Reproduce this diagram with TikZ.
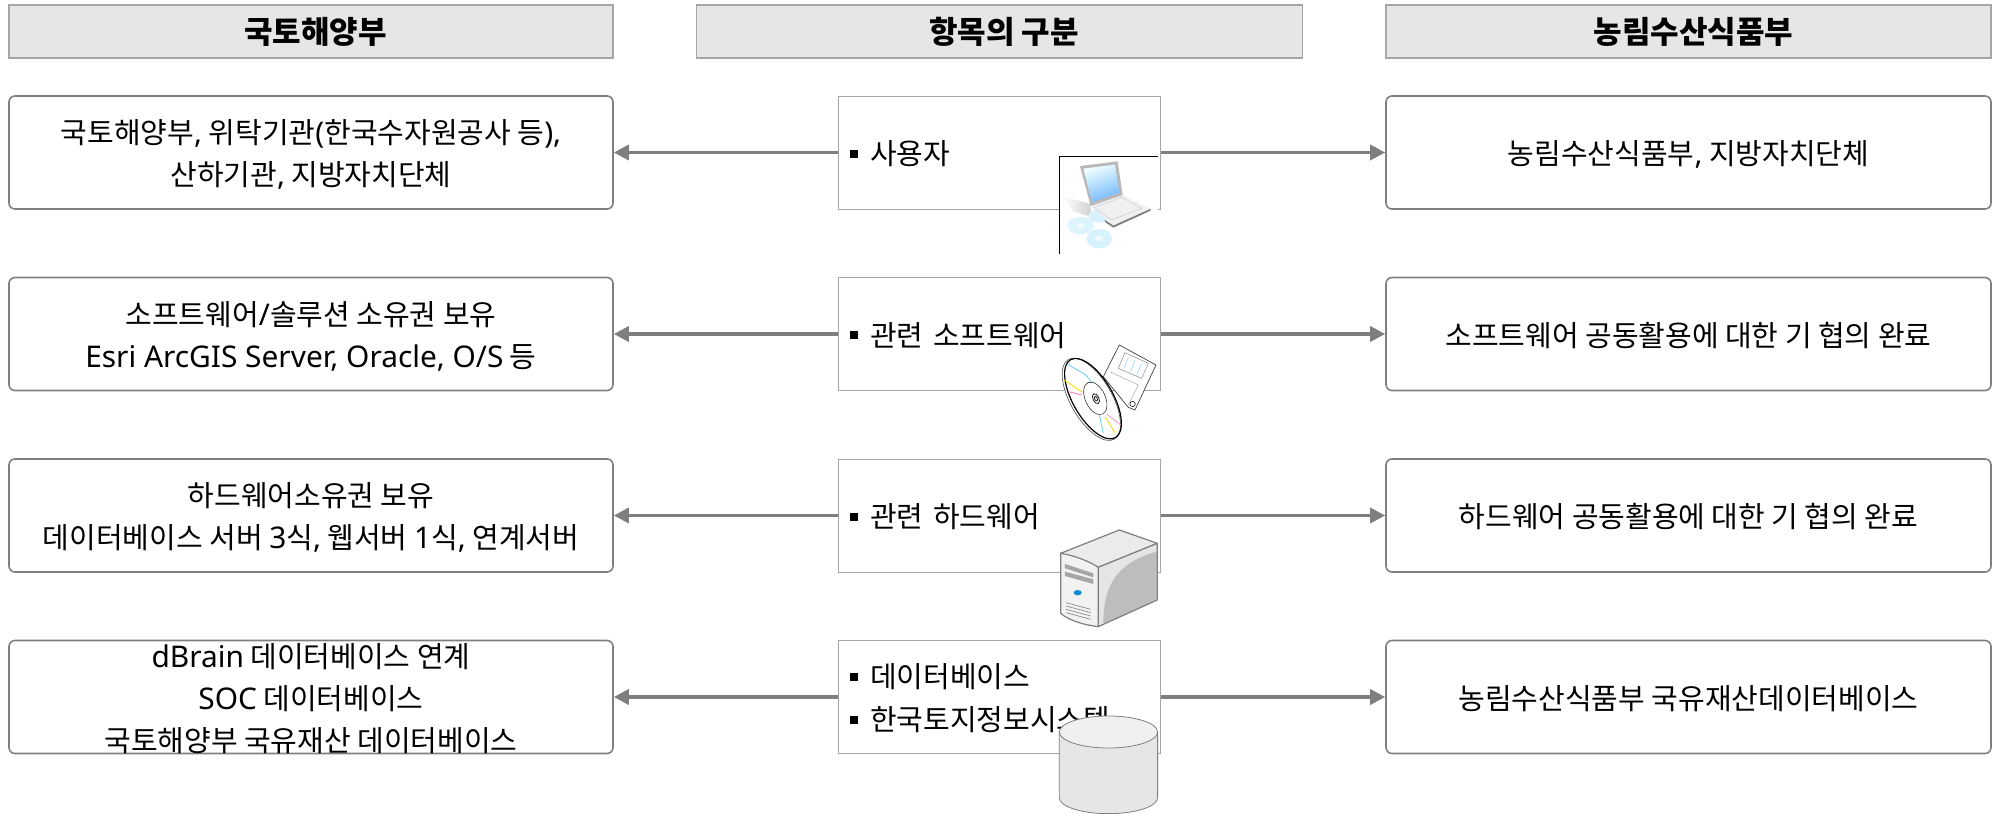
\documentclass[tikz,border=0pt]{standalone}
\usepackage{fontspec}
\usetikzlibrary{arrows.meta}
\setmainfont{Noto Sans CJK KR}
\newfontfamily\latf[Scale=1.03]{Noto Sans}
\newcommand{\lat}[1]{{\latf #1}}
\newcommand{\hi}{\rule{0pt}{30pt}}
\newcommand{\lo}{\rule[-6pt]{0pt}{6pt}}
\newcommand{\blt}{\rule[7pt]{8pt}{8pt}\hspace{12pt}}
\definecolor{hdrfill}{HTML}{E6E6E6}
\definecolor{edgeg}{HTML}{A6A6A6}
\definecolor{boxg}{HTML}{7F7F7F}
\tikzset{
  hdr/.style={draw=edgeg,fill=hdrfill,line width=1.2pt,minimum height=53pt,inner sep=0pt,font=\fontsize{31}{36}\selectfont\bfseries},
  sidebox/.style={draw=boxg,line width=1.6pt,rounded corners=6pt,minimum height=113pt,inner sep=0pt,align=center,font=\fontsize{29}{42}\selectfont},
  widel/.style={minimum width=604pt},
  wider/.style={minimum width=605pt},
  midbox/.style={draw=edgeg,line width=1pt,minimum width=322pt,minimum height=113pt,inner xsep=12pt,inner ysep=0pt,text width=298pt,align=left,font=\fontsize{29}{43}\selectfont},
  link/.style={draw=boxg,line width=3.4pt,-{Triangle[length=15pt,width=15pt]}},
  srv/.style={draw=boxg,line width=1.2pt,line join=round},
  cyl/.style={draw=boxg,line width=0.8pt,fill=hdrfill}
}
\begin{document}
\begin{tikzpicture}[x=1pt,y=-1pt]
\useasboundingbox (0,0) rectangle (1995,814);
% headers
\node[hdr,widel] (h1) at (311,31.5) {\hi\lo\hspace{9pt}국토해양부};
\node[hdr,minimum width=606pt] (h2) at (999.5,31.5) {\hi\lo\hspace{9pt}항목의 구분};
\node[hdr,wider] (h3) at (1688.5,31.5) {\hi\lo\hspace{10pt}농림수산식품부};
% left boxes
\node[sidebox,widel] (l1) at (311,152.5) {\hi 국토해양부\lat{,} 위탁기관\lat{(}한국수자원공사 등\lat{),}\\\lo 산하기관\lat{,} 지방자치단체};
\node[sidebox,widel] (l2) at (311,334) {\hi 소프트웨어\lat{/}솔루션 소유권 보유\\\lo\lat{Esri ArcGIS Server, Oracle, O/S} 등};
\node[sidebox,widel] (l3) at (311,515.5) {\hi 하드웨어소유권 보유\\\lo 데이터베이스 서버 \lat{3}식\lat{,} 웹서버 \lat{1}식\lat{,} 연계서버};
\node[sidebox,widel] (l4) at (311,697) {\rule{0pt}{24pt}\smash{\lat{dBrain} 데이터베이스 연계}\\\lat{SOC} 데이터베이스\\\smash{국토해양부 국유재산 데이터베이스}};
% middle boxes
\node[midbox] (m1) at (999,152.5) {\hi\lo\blt 사용자};
\node[midbox] (m2) at (999,334) {\hi\lo\blt 관련 소프트웨어};
\node[midbox] (m3) at (999,515.5) {\hi\lo\blt 관련 하드웨어};
\node[midbox] (m4) at (999,697) {\hi\blt 데이터베이스\\\lo\blt 한국토지정보시스템};
% right boxes
\node[sidebox,wider] (r1) at (1688.5,152.5) {\hi\lo 농림수산식품부\lat{,} 지방자치단체};
\node[sidebox,wider] (r2) at (1688.5,334) {\hi\lo 소프트웨어 공동활용에 대한 기 협의 완료};
\node[sidebox,wider] (r3) at (1688.5,515.5) {\hi\lo 하드웨어 공동활용에 대한 기 협의 완료};
\node[sidebox,wider] (r4) at (1688.5,697) {\hi\lo 농림수산식품부 국유재산데이터베이스};
% connectors
\foreach \i in {1,2,3,4}{
  \draw[link] (m\i.west) -- (l\i.east);
  \draw[link] (m\i.east) -- (r\i.west);
}
% laptop picture
\begin{scope}[shift={(820,80)},x=0.3333pt,y=-0.3333pt]
  \fill[white] (718,229) rectangle (1013,523);
  \draw[black,line width=0.8pt] (718,523) -- (718,229) -- (1013,229);
  \shade[left color=white,right color=black!18] (730,350) -- (812,372) -- (812,410) -- (760,395) -- cycle;
  \fill[cyan!13!white] (782,437) ellipse [x radius=40,y radius=26];
  \fill[cyan!16!white] (838,476) ellipse [x radius=38,y radius=29];
  \fill[cyan!16!white] (835,408) ellipse [x radius=30,y radius=20];
  \fill[cyan!5!white] (782,437) ellipse [x radius=12,y radius=7];
  \fill[cyan!5!white] (838,476) ellipse [x radius=12,y radius=8];
  \fill[black!50] (880,443) -- (992,392) -- (992,386) -- (880,436) -- (855,420) -- (855,426) -- cycle;
  \fill[black!6] (812,378) -- (908,345) -- (990,386) -- (880,436) -- cycle;
  \draw[black!20,line width=0.5pt] (822,382) -- (905,352) -- (965,385) -- (875,420) -- cycle;
  \fill[black!28] (780,258) -- (893,244) -- (908,345) -- (812,378) -- cycle;
  \shade[left color=cyan!6!white,right color=cyan!50!blue!55!white,shading angle=20] (790,266) -- (885,254) -- (898,338) -- (816,366) -- cycle;
\end{scope}
% disc and floppy picture
\begin{scope}[shift={(820,270)},x=0.3333pt,y=-0.3333pt]
  \draw[black!75,fill=white,line width=0.7pt,line join=round] (898,225) -- (1008,285) -- (945,420) -- (925,412) -- (850,320) -- cycle;
  \draw[black!45,line width=0.5pt] (915,248) -- (985,280) -- (965,325) -- (895,295) -- cycle;
  \draw[cyan!50,line width=0.5pt] (925,262) -- (912,295) (945,270) -- (932,305) (965,280) -- (950,315);
  \draw[black!35,line width=0.5pt] (870,305) -- (955,345) -- (925,405);
  \draw[black,line width=0.5pt] (938,402) circle [radius=8];
  \draw[black!70,fill=white,line width=0.6pt] (814,388) ellipse [x radius=138,y radius=62,rotate=-60];
  \draw[black,line width=1.2pt] (819,386) ellipse [x radius=135,y radius=60,rotate=-60];
  \draw[cyan!60,line width=0.8pt] (745,282) .. controls (770,305) and (800,305) .. (815,340);
  \draw[cyan!60,line width=0.8pt] (838,435) -- (850,490);
  \draw[yellow!80!orange,line width=0.9pt] (733,330) -- (785,365);
  \draw[magenta!50,line width=0.9pt] (745,365) -- (785,375);
  \draw[magenta!40,line width=0.8pt] (860,432) -- (902,465);
  \draw[yellow!70!orange,line width=0.8pt] (855,440) -- (885,488);
  \draw[black!80,line width=0.6pt] (826,385) ellipse [x radius=52,y radius=30,rotate=-65];
  \draw[black,line width=0.7pt] (828,386) ellipse [x radius=16,y radius=9,rotate=-65];
  \draw[black,line width=0.7pt] (828,386) ellipse [x radius=7,y radius=4,rotate=-65];
\end{scope}
% server picture
\begin{scope}[shift={(820,450)},x=0.3333pt,y=-0.3333pt]
  \path[srv,fill=black!8] (722,310) -- (898,240) -- (1012,280) -- (835,352) -- cycle;
  \fill[black!10] (835,352) -- (1012,280) -- (1012,450) -- (835,530) -- cycle;
  \fill[black!26] (850,522) .. controls (850,420) and (880,340) .. (1010,305) -- (1010,450) -- cycle;
  \path[srv,fill=black!5] (722,310) .. controls (760,315) and (810,335) .. (835,352) -- (835,530) .. controls (790,525) and (745,510) .. (722,490) -- cycle;
  \draw[boxg,line width=1.2pt,line join=round] (835,352) -- (1012,280) -- (1012,450) -- (835,530);
  \fill[black!35] (735,342) -- (820,370) -- (820,382) -- (735,355) -- cycle;
  \fill[black!35] (735,365) -- (820,388) -- (820,402) -- (735,378) -- cycle;
  \fill[cyan!70!blue] (773,428) ellipse [x radius=12,y radius=8];
  \foreach \d in {0,10,20,30}{\draw[black!50,line width=0.6pt] (738,458+\d) -- (812,478+\d);}
\end{scope}
% database picture
\begin{scope}[shift={(820,630)},x=0.3333pt,y=-0.3333pt]
  \path[cyl] (718,306) -- (718,503) arc [start angle=180,end angle=0,x radius=147.5,y radius=48] -- (1013,306) -- cycle;
  \path[cyl,fill=black!6] (865.5,306) ellipse [x radius=147.5,y radius=48];
\end{scope}
\end{tikzpicture}
\end{document}
